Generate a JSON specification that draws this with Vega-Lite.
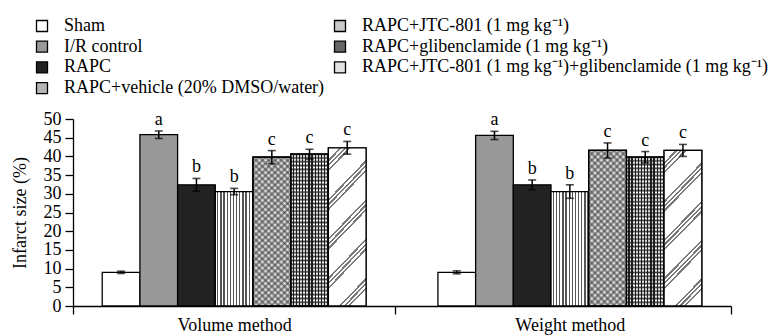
{
  "$schema": "https://vega.github.io/schema/vega-lite/v6.json",
  "width": 658,
  "height": 187,
  "autosize": "none",
  "padding": {"left": 73, "top": 119, "right": 43, "bottom": 29},
  "background": "white",
  "config": {
    "view": {"stroke": null},
    "font": "Liberation Serif",
    "axis": {
      "domainColor": "black", "domainWidth": 1.3, "tickColor": "black", "tickWidth": 1.3,
      "labelColor": "black", "labelFont": "Liberation Serif", "labelFontSize": 18,
      "titleColor": "black", "titleFont": "Liberation Serif", "titleFontSize": 18, "titleFontWeight": "normal",
      "grid": false
    }
  },
  "data": {"values": [
    {"method": "Volume method", "group": "Sham", "mean": 9.0, "se": 0.3, "letter": ""},
    {"method": "Volume method", "group": "I/R control", "mean": 45.8, "se": 1.0, "letter": "a"},
    {"method": "Volume method", "group": "RAPC", "mean": 32.4, "se": 1.7, "letter": "b"},
    {"method": "Volume method", "group": "RAPC+vehicle (20% DMSO/water)", "mean": 30.6, "se": 0.85, "letter": "b"},
    {"method": "Volume method", "group": "RAPC+JTC-801 (1 mg kg⁻¹)", "mean": 39.8, "se": 1.75, "letter": "c"},
    {"method": "Volume method", "group": "RAPC+glibenclamide (1 mg kg⁻¹)", "mean": 40.6, "se": 1.3, "letter": "c"},
    {"method": "Volume method", "group": "RAPC+JTC-801 (1 mg kg⁻¹)+glibenclamide (1 mg kg⁻¹)", "mean": 42.3, "se": 1.7, "letter": "c"},
    {"method": "Weight method", "group": "Sham", "mean": 9.0, "se": 0.4, "letter": ""},
    {"method": "Weight method", "group": "I/R control", "mean": 45.6, "se": 1.1, "letter": "a"},
    {"method": "Weight method", "group": "RAPC", "mean": 32.4, "se": 1.3, "letter": "b"},
    {"method": "Weight method", "group": "RAPC+vehicle (20% DMSO/water)", "mean": 30.6, "se": 1.8, "letter": "b"},
    {"method": "Weight method", "group": "RAPC+JTC-801 (1 mg kg⁻¹)", "mean": 41.6, "se": 2.0, "letter": "c"},
    {"method": "Weight method", "group": "RAPC+glibenclamide (1 mg kg⁻¹)", "mean": 39.8, "se": 1.5, "letter": "c"},
    {"method": "Weight method", "group": "RAPC+JTC-801 (1 mg kg⁻¹)+glibenclamide (1 mg kg⁻¹)", "mean": 41.6, "se": 1.6, "letter": "c"}
  ]},
  "transform": [
    {"calculate": "datum.mean - datum.se", "as": "lo"},
    {"calculate": "datum.mean + datum.se", "as": "hi"}
  ],
  "encoding": {
    "x": {
      "field": "method", "type": "nominal", "title": null,
      "scale": {"paddingInner": 0.04, "paddingOuter": 0},
      "axis": {"labelAngle": 0, "tickBand": "extent", "tickSize": 8, "labelPadding": 2}
    },
    "xOffset": {
      "field": "group", "type": "nominal",
      "sort": ["Sham", "I/R control", "RAPC", "RAPC+vehicle (20% DMSO/water)", "RAPC+JTC-801 (1 mg kg⁻¹)", "RAPC+glibenclamide (1 mg kg⁻¹)", "RAPC+JTC-801 (1 mg kg⁻¹)+glibenclamide (1 mg kg⁻¹)"],
      "scale": {"paddingInner": 0, "paddingOuter": 0.775}
    }
  },
  "layer": [
    {
      "mark": {"type": "bar", "stroke": "black", "strokeWidth": 1.3},
      "encoding": {
        "y": {
          "field": "mean", "type": "quantitative", "title": "Infarct size (%)",
          "scale": {"domain": [0, 50], "nice": false, "zero": true},
          "axis": {"values": [0, 5, 10, 15, 20, 25, 30, 35, 40, 45, 50], "tickSize": 8, "labelPadding": 4, "titlePadding": 14, "labelOverlap": false}
        },
        "fill": {
          "field": "group", "type": "nominal",
          "scale": {
            "domain": ["Sham", "I/R control", "RAPC", "RAPC+vehicle (20% DMSO/water)", "RAPC+JTC-801 (1 mg kg⁻¹)", "RAPC+glibenclamide (1 mg kg⁻¹)", "RAPC+JTC-801 (1 mg kg⁻¹)+glibenclamide (1 mg kg⁻¹)"],
            "range": ["#ffffff", "#999999", "#222222", "#b4b4b4", "#c8c8c8", "#666666", "#e2e2e2"]
          },
          "legend": {
            "orient": "none", "legendX": -40, "legendY": -102, "direction": "vertical", "columns": 2, "title": null,
            "symbolType": "square", "symbolSize": 121, "symbolStrokeColor": "black", "symbolStrokeWidth": 1.3,
            "labelFont": "Liberation Serif", "labelFontSize": 18, "labelColor": "black", "labelOffset": 13, "labelLimit": 700,
            "rowPadding": 2.7, "columnPadding": 6, "padding": 0, "offset": 0
          }
        }
      }
    },
    {
      "transform": [{"filter": "indexof(datum.group,'vehicle')>=0"}],
      "mark": {"type": "bar", "stroke": "black", "strokeWidth": 1.3, "fill": {"gradient": "linear", "x1": 0, "y1": 0, "x2": 1, "y2": 0, "stops": [
        {"offset": 0, "color": "#fff"}, {"offset": 0.05, "color": "#fff"}, {"offset": 0.05, "color": "#555"}, {"offset": 0.0833, "color": "#555"},
        {"offset": 0.0833, "color": "#fff"}, {"offset": 0.1333, "color": "#fff"}, {"offset": 0.1333, "color": "#555"}, {"offset": 0.1667, "color": "#555"},
        {"offset": 0.1667, "color": "#fff"}, {"offset": 0.2167, "color": "#fff"}, {"offset": 0.2167, "color": "#555"}, {"offset": 0.25, "color": "#555"},
        {"offset": 0.25, "color": "#fff"}, {"offset": 0.3, "color": "#fff"}, {"offset": 0.3, "color": "#555"}, {"offset": 0.3333, "color": "#555"},
        {"offset": 0.3333, "color": "#fff"}, {"offset": 0.3833, "color": "#fff"}, {"offset": 0.3833, "color": "#555"}, {"offset": 0.4167, "color": "#555"},
        {"offset": 0.4167, "color": "#fff"}, {"offset": 0.4667, "color": "#fff"}, {"offset": 0.4667, "color": "#555"}, {"offset": 0.5, "color": "#555"},
        {"offset": 0.5, "color": "#fff"}, {"offset": 0.55, "color": "#fff"}, {"offset": 0.55, "color": "#555"}, {"offset": 0.5833, "color": "#555"},
        {"offset": 0.5833, "color": "#fff"}, {"offset": 0.6333, "color": "#fff"}, {"offset": 0.6333, "color": "#555"}, {"offset": 0.6667, "color": "#555"},
        {"offset": 0.6667, "color": "#fff"}, {"offset": 0.7167, "color": "#fff"}, {"offset": 0.7167, "color": "#555"}, {"offset": 0.75, "color": "#555"},
        {"offset": 0.75, "color": "#fff"}, {"offset": 0.8, "color": "#fff"}, {"offset": 0.8, "color": "#555"}, {"offset": 0.8333, "color": "#555"},
        {"offset": 0.8333, "color": "#fff"}, {"offset": 0.8833, "color": "#fff"}, {"offset": 0.8833, "color": "#555"}, {"offset": 0.9167, "color": "#555"},
        {"offset": 0.9167, "color": "#fff"}, {"offset": 0.9667, "color": "#fff"}, {"offset": 0.9667, "color": "#555"}, {"offset": 1, "color": "#555"}]}},
      "encoding": {"y": {"field": "mean", "type": "quantitative", "title": "Infarct size (%)", "axis": {"values": [0, 5, 10, 15, 20, 25, 30, 35, 40, 45, 50], "tickSize": 8, "labelPadding": 4, "titlePadding": 14, "labelOverlap": false}}}
    },
    {
      "transform": [{"filter": "indexof(datum.group,'gliben')>=0 && indexof(datum.group,'JTC')<0"}],
      "mark": {"type": "bar", "stroke": "black", "strokeWidth": 1.3, "fill": {"gradient": "linear", "x1": 0, "y1": 0, "x2": 1, "y2": 0, "stops": [
        {"offset": 0, "color": "#fff"}, {"offset": 0.05, "color": "#fff"}, {"offset": 0.05, "color": "#222"}, {"offset": 0.0833, "color": "#222"},
        {"offset": 0.0833, "color": "#fff"}, {"offset": 0.1333, "color": "#fff"}, {"offset": 0.1333, "color": "#222"}, {"offset": 0.1667, "color": "#222"},
        {"offset": 0.1667, "color": "#fff"}, {"offset": 0.2167, "color": "#fff"}, {"offset": 0.2167, "color": "#222"}, {"offset": 0.25, "color": "#222"},
        {"offset": 0.25, "color": "#fff"}, {"offset": 0.3, "color": "#fff"}, {"offset": 0.3, "color": "#222"}, {"offset": 0.3333, "color": "#222"},
        {"offset": 0.3333, "color": "#fff"}, {"offset": 0.3833, "color": "#fff"}, {"offset": 0.3833, "color": "#222"}, {"offset": 0.4167, "color": "#222"},
        {"offset": 0.4167, "color": "#fff"}, {"offset": 0.4667, "color": "#fff"}, {"offset": 0.4667, "color": "#222"}, {"offset": 0.5, "color": "#222"},
        {"offset": 0.5, "color": "#fff"}, {"offset": 0.55, "color": "#fff"}, {"offset": 0.55, "color": "#222"}, {"offset": 0.5833, "color": "#222"},
        {"offset": 0.5833, "color": "#fff"}, {"offset": 0.6333, "color": "#fff"}, {"offset": 0.6333, "color": "#222"}, {"offset": 0.6667, "color": "#222"},
        {"offset": 0.6667, "color": "#fff"}, {"offset": 0.7167, "color": "#fff"}, {"offset": 0.7167, "color": "#222"}, {"offset": 0.75, "color": "#222"},
        {"offset": 0.75, "color": "#fff"}, {"offset": 0.8, "color": "#fff"}, {"offset": 0.8, "color": "#222"}, {"offset": 0.8333, "color": "#222"},
        {"offset": 0.8333, "color": "#fff"}, {"offset": 0.8833, "color": "#fff"}, {"offset": 0.8833, "color": "#222"}, {"offset": 0.9167, "color": "#222"},
        {"offset": 0.9167, "color": "#fff"}, {"offset": 0.9667, "color": "#fff"}, {"offset": 0.9667, "color": "#222"}, {"offset": 1, "color": "#222"}]}},
      "encoding": {"y": {"field": "mean", "type": "quantitative", "title": "Infarct size (%)", "axis": {"values": [0, 5, 10, 15, 20, 25, 30, 35, 40, 45, 50], "tickSize": 8, "labelPadding": 4, "titlePadding": 14, "labelOverlap": false}}}
    },
    {
      "transform": [{"filter": "indexof(datum.group,'gliben')>=0 && indexof(datum.group,'JTC')<0"}],
      "mark": {"type": "bar", "stroke": "black", "strokeWidth": 1.3, "fill": {"gradient": "linear", "x1": 0, "y1": 0, "x2": 0, "y2": 1, "stops": [
        {"offset": 0, "color": "rgba(20,20,20,0.8)"}, {"offset": 0.0125, "color": "rgba(20,20,20,0)"}, {"offset": 0.025, "color": "rgba(20,20,20,0.8)"}, {"offset": 0.0375, "color": "rgba(20,20,20,0)"},
        {"offset": 0.05, "color": "rgba(20,20,20,0.8)"}, {"offset": 0.0625, "color": "rgba(20,20,20,0)"}, {"offset": 0.075, "color": "rgba(20,20,20,0.8)"}, {"offset": 0.0875, "color": "rgba(20,20,20,0)"},
        {"offset": 0.1, "color": "rgba(20,20,20,0.8)"}, {"offset": 0.1125, "color": "rgba(20,20,20,0)"}, {"offset": 0.125, "color": "rgba(20,20,20,0.8)"}, {"offset": 0.1375, "color": "rgba(20,20,20,0)"},
        {"offset": 0.15, "color": "rgba(20,20,20,0.8)"}, {"offset": 0.1625, "color": "rgba(20,20,20,0)"}, {"offset": 0.175, "color": "rgba(20,20,20,0.8)"}, {"offset": 0.1875, "color": "rgba(20,20,20,0)"},
        {"offset": 0.2, "color": "rgba(20,20,20,0.8)"}, {"offset": 0.2125, "color": "rgba(20,20,20,0)"}, {"offset": 0.225, "color": "rgba(20,20,20,0.8)"}, {"offset": 0.2375, "color": "rgba(20,20,20,0)"},
        {"offset": 0.25, "color": "rgba(20,20,20,0.8)"}, {"offset": 0.2625, "color": "rgba(20,20,20,0)"}, {"offset": 0.275, "color": "rgba(20,20,20,0.8)"}, {"offset": 0.2875, "color": "rgba(20,20,20,0)"},
        {"offset": 0.3, "color": "rgba(20,20,20,0.8)"}, {"offset": 0.3125, "color": "rgba(20,20,20,0)"}, {"offset": 0.325, "color": "rgba(20,20,20,0.8)"}, {"offset": 0.3375, "color": "rgba(20,20,20,0)"},
        {"offset": 0.35, "color": "rgba(20,20,20,0.8)"}, {"offset": 0.3625, "color": "rgba(20,20,20,0)"}, {"offset": 0.375, "color": "rgba(20,20,20,0.8)"}, {"offset": 0.3875, "color": "rgba(20,20,20,0)"},
        {"offset": 0.4, "color": "rgba(20,20,20,0.8)"}, {"offset": 0.4125, "color": "rgba(20,20,20,0)"}, {"offset": 0.425, "color": "rgba(20,20,20,0.8)"}, {"offset": 0.4375, "color": "rgba(20,20,20,0)"},
        {"offset": 0.45, "color": "rgba(20,20,20,0.8)"}, {"offset": 0.4625, "color": "rgba(20,20,20,0)"}, {"offset": 0.475, "color": "rgba(20,20,20,0.8)"}, {"offset": 0.4875, "color": "rgba(20,20,20,0)"},
        {"offset": 0.5, "color": "rgba(20,20,20,0.8)"}, {"offset": 0.5125, "color": "rgba(20,20,20,0)"}, {"offset": 0.525, "color": "rgba(20,20,20,0.8)"}, {"offset": 0.5375, "color": "rgba(20,20,20,0)"},
        {"offset": 0.55, "color": "rgba(20,20,20,0.8)"}, {"offset": 0.5625, "color": "rgba(20,20,20,0)"}, {"offset": 0.575, "color": "rgba(20,20,20,0.8)"}, {"offset": 0.5875, "color": "rgba(20,20,20,0)"},
        {"offset": 0.6, "color": "rgba(20,20,20,0.8)"}, {"offset": 0.6125, "color": "rgba(20,20,20,0)"}, {"offset": 0.625, "color": "rgba(20,20,20,0.8)"}, {"offset": 0.6375, "color": "rgba(20,20,20,0)"},
        {"offset": 0.65, "color": "rgba(20,20,20,0.8)"}, {"offset": 0.6625, "color": "rgba(20,20,20,0)"}, {"offset": 0.675, "color": "rgba(20,20,20,0.8)"}, {"offset": 0.6875, "color": "rgba(20,20,20,0)"},
        {"offset": 0.7, "color": "rgba(20,20,20,0.8)"}, {"offset": 0.7125, "color": "rgba(20,20,20,0)"}, {"offset": 0.725, "color": "rgba(20,20,20,0.8)"}, {"offset": 0.7375, "color": "rgba(20,20,20,0)"},
        {"offset": 0.75, "color": "rgba(20,20,20,0.8)"}, {"offset": 0.7625, "color": "rgba(20,20,20,0)"}, {"offset": 0.775, "color": "rgba(20,20,20,0.8)"}, {"offset": 0.7875, "color": "rgba(20,20,20,0)"},
        {"offset": 0.8, "color": "rgba(20,20,20,0.8)"}, {"offset": 0.8125, "color": "rgba(20,20,20,0)"}, {"offset": 0.825, "color": "rgba(20,20,20,0.8)"}, {"offset": 0.8375, "color": "rgba(20,20,20,0)"},
        {"offset": 0.85, "color": "rgba(20,20,20,0.8)"}, {"offset": 0.8625, "color": "rgba(20,20,20,0)"}, {"offset": 0.875, "color": "rgba(20,20,20,0.8)"}, {"offset": 0.8875, "color": "rgba(20,20,20,0)"},
        {"offset": 0.9, "color": "rgba(20,20,20,0.8)"}, {"offset": 0.9125, "color": "rgba(20,20,20,0)"}, {"offset": 0.925, "color": "rgba(20,20,20,0.8)"}, {"offset": 0.9375, "color": "rgba(20,20,20,0)"},
        {"offset": 0.95, "color": "rgba(20,20,20,0.8)"}, {"offset": 0.9625, "color": "rgba(20,20,20,0)"}, {"offset": 0.975, "color": "rgba(20,20,20,0.8)"}, {"offset": 0.9875, "color": "rgba(20,20,20,0)"},
        {"offset": 1, "color": "rgba(20,20,20,0.8)"}]}},
      "encoding": {"y": {"field": "mean", "type": "quantitative", "title": "Infarct size (%)", "axis": {"values": [0, 5, 10, 15, 20, 25, 30, 35, 40, 45, 50], "tickSize": 8, "labelPadding": 4, "titlePadding": 14, "labelOverlap": false}}}
    },
    {
      "transform": [{"filter": "indexof(datum.group,'JTC')>=0 && indexof(datum.group,'gliben')<0"}],
      "mark": {"type": "bar", "stroke": "black", "strokeWidth": 1.3, "fill": {"gradient": "linear", "x1": 0, "y1": 0, "x2": 0.29, "y2": 1.17, "stops": [
        {"offset": 0, "color": "#858585"}, {"offset": 0.01667, "color": "#fff"}, {"offset": 0.03333, "color": "#858585"}, {"offset": 0.05, "color": "#fff"},
        {"offset": 0.06667, "color": "#858585"}, {"offset": 0.08333, "color": "#fff"}, {"offset": 0.1, "color": "#858585"}, {"offset": 0.11667, "color": "#fff"},
        {"offset": 0.13333, "color": "#858585"}, {"offset": 0.15, "color": "#fff"}, {"offset": 0.16667, "color": "#858585"}, {"offset": 0.18333, "color": "#fff"},
        {"offset": 0.2, "color": "#858585"}, {"offset": 0.21667, "color": "#fff"}, {"offset": 0.23333, "color": "#858585"}, {"offset": 0.25, "color": "#fff"},
        {"offset": 0.26667, "color": "#858585"}, {"offset": 0.28333, "color": "#fff"}, {"offset": 0.3, "color": "#858585"}, {"offset": 0.31667, "color": "#fff"},
        {"offset": 0.33333, "color": "#858585"}, {"offset": 0.35, "color": "#fff"}, {"offset": 0.36667, "color": "#858585"}, {"offset": 0.38333, "color": "#fff"},
        {"offset": 0.4, "color": "#858585"}, {"offset": 0.41667, "color": "#fff"}, {"offset": 0.43333, "color": "#858585"}, {"offset": 0.45, "color": "#fff"},
        {"offset": 0.46667, "color": "#858585"}, {"offset": 0.48333, "color": "#fff"}, {"offset": 0.5, "color": "#858585"}, {"offset": 0.51667, "color": "#fff"},
        {"offset": 0.53333, "color": "#858585"}, {"offset": 0.55, "color": "#fff"}, {"offset": 0.56667, "color": "#858585"}, {"offset": 0.58333, "color": "#fff"},
        {"offset": 0.6, "color": "#858585"}, {"offset": 0.61667, "color": "#fff"}, {"offset": 0.63333, "color": "#858585"}, {"offset": 0.65, "color": "#fff"},
        {"offset": 0.66667, "color": "#858585"}, {"offset": 0.68333, "color": "#fff"}, {"offset": 0.7, "color": "#858585"}, {"offset": 0.71667, "color": "#fff"},
        {"offset": 0.73333, "color": "#858585"}, {"offset": 0.75, "color": "#fff"}, {"offset": 0.76667, "color": "#858585"}, {"offset": 0.78333, "color": "#fff"},
        {"offset": 0.8, "color": "#858585"}, {"offset": 0.81667, "color": "#fff"}, {"offset": 0.83333, "color": "#858585"}, {"offset": 0.85, "color": "#fff"},
        {"offset": 0.86667, "color": "#858585"}, {"offset": 0.88333, "color": "#fff"}, {"offset": 0.9, "color": "#858585"}, {"offset": 0.91667, "color": "#fff"},
        {"offset": 0.93333, "color": "#858585"}, {"offset": 0.95, "color": "#fff"}, {"offset": 0.96667, "color": "#858585"}, {"offset": 0.98333, "color": "#fff"},
        {"offset": 1, "color": "#858585"}]}},
      "encoding": {"y": {"field": "mean", "type": "quantitative", "title": "Infarct size (%)", "axis": {"values": [0, 5, 10, 15, 20, 25, 30, 35, 40, 45, 50], "tickSize": 8, "labelPadding": 4, "titlePadding": 14, "labelOverlap": false}}}
    },
    {
      "transform": [{"filter": "indexof(datum.group,'JTC')>=0 && indexof(datum.group,'gliben')<0"}],
      "mark": {"type": "bar", "stroke": "black", "strokeWidth": 1.3, "fill": {"gradient": "linear", "x1": 1, "y1": 0, "x2": 0.71, "y2": 1.17, "stops": [
        {"offset": 0, "color": "rgba(50,50,50,0.6)"}, {"offset": 0.01667, "color": "rgba(50,50,50,0)"}, {"offset": 0.03333, "color": "rgba(50,50,50,0.6)"}, {"offset": 0.05, "color": "rgba(50,50,50,0)"},
        {"offset": 0.06667, "color": "rgba(50,50,50,0.6)"}, {"offset": 0.08333, "color": "rgba(50,50,50,0)"}, {"offset": 0.1, "color": "rgba(50,50,50,0.6)"}, {"offset": 0.11667, "color": "rgba(50,50,50,0)"},
        {"offset": 0.13333, "color": "rgba(50,50,50,0.6)"}, {"offset": 0.15, "color": "rgba(50,50,50,0)"}, {"offset": 0.16667, "color": "rgba(50,50,50,0.6)"}, {"offset": 0.18333, "color": "rgba(50,50,50,0)"},
        {"offset": 0.2, "color": "rgba(50,50,50,0.6)"}, {"offset": 0.21667, "color": "rgba(50,50,50,0)"}, {"offset": 0.23333, "color": "rgba(50,50,50,0.6)"}, {"offset": 0.25, "color": "rgba(50,50,50,0)"},
        {"offset": 0.26667, "color": "rgba(50,50,50,0.6)"}, {"offset": 0.28333, "color": "rgba(50,50,50,0)"}, {"offset": 0.3, "color": "rgba(50,50,50,0.6)"}, {"offset": 0.31667, "color": "rgba(50,50,50,0)"},
        {"offset": 0.33333, "color": "rgba(50,50,50,0.6)"}, {"offset": 0.35, "color": "rgba(50,50,50,0)"}, {"offset": 0.36667, "color": "rgba(50,50,50,0.6)"}, {"offset": 0.38333, "color": "rgba(50,50,50,0)"},
        {"offset": 0.4, "color": "rgba(50,50,50,0.6)"}, {"offset": 0.41667, "color": "rgba(50,50,50,0)"}, {"offset": 0.43333, "color": "rgba(50,50,50,0.6)"}, {"offset": 0.45, "color": "rgba(50,50,50,0)"},
        {"offset": 0.46667, "color": "rgba(50,50,50,0.6)"}, {"offset": 0.48333, "color": "rgba(50,50,50,0)"}, {"offset": 0.5, "color": "rgba(50,50,50,0.6)"}, {"offset": 0.51667, "color": "rgba(50,50,50,0)"},
        {"offset": 0.53333, "color": "rgba(50,50,50,0.6)"}, {"offset": 0.55, "color": "rgba(50,50,50,0)"}, {"offset": 0.56667, "color": "rgba(50,50,50,0.6)"}, {"offset": 0.58333, "color": "rgba(50,50,50,0)"},
        {"offset": 0.6, "color": "rgba(50,50,50,0.6)"}, {"offset": 0.61667, "color": "rgba(50,50,50,0)"}, {"offset": 0.63333, "color": "rgba(50,50,50,0.6)"}, {"offset": 0.65, "color": "rgba(50,50,50,0)"},
        {"offset": 0.66667, "color": "rgba(50,50,50,0.6)"}, {"offset": 0.68333, "color": "rgba(50,50,50,0)"}, {"offset": 0.7, "color": "rgba(50,50,50,0.6)"}, {"offset": 0.71667, "color": "rgba(50,50,50,0)"},
        {"offset": 0.73333, "color": "rgba(50,50,50,0.6)"}, {"offset": 0.75, "color": "rgba(50,50,50,0)"}, {"offset": 0.76667, "color": "rgba(50,50,50,0.6)"}, {"offset": 0.78333, "color": "rgba(50,50,50,0)"},
        {"offset": 0.8, "color": "rgba(50,50,50,0.6)"}, {"offset": 0.81667, "color": "rgba(50,50,50,0)"}, {"offset": 0.83333, "color": "rgba(50,50,50,0.6)"}, {"offset": 0.85, "color": "rgba(50,50,50,0)"},
        {"offset": 0.86667, "color": "rgba(50,50,50,0.6)"}, {"offset": 0.88333, "color": "rgba(50,50,50,0)"}, {"offset": 0.9, "color": "rgba(50,50,50,0.6)"}, {"offset": 0.91667, "color": "rgba(50,50,50,0)"},
        {"offset": 0.93333, "color": "rgba(50,50,50,0.6)"}, {"offset": 0.95, "color": "rgba(50,50,50,0)"}, {"offset": 0.96667, "color": "rgba(50,50,50,0.6)"}, {"offset": 0.98333, "color": "rgba(50,50,50,0)"},
        {"offset": 1, "color": "rgba(50,50,50,0.6)"}]}},
      "encoding": {"y": {"field": "mean", "type": "quantitative", "title": "Infarct size (%)", "axis": {"values": [0, 5, 10, 15, 20, 25, 30, 35, 40, 45, 50], "tickSize": 8, "labelPadding": 4, "titlePadding": 14, "labelOverlap": false}}}
    },
    {
      "transform": [{"filter": "indexof(datum.group,'JTC')>=0 && indexof(datum.group,'gliben')>=0"}],
      "mark": {"type": "bar", "stroke": "black", "strokeWidth": 1.3, "fill": {"gradient": "linear", "x1": 0, "y1": 0, "x2": 0.29, "y2": 1.17, "stops": [
        {"offset": 0, "color": "#fff"},
        {"offset": 0.06, "color": "#fff"}, {"offset": 0.06, "color": "#7a7a7a"}, {"offset": 0.072, "color": "#7a7a7a"}, {"offset": 0.072, "color": "#fff"},
        {"offset": 0.084, "color": "#fff"}, {"offset": 0.084, "color": "#7a7a7a"}, {"offset": 0.096, "color": "#7a7a7a"}, {"offset": 0.096, "color": "#fff"},
        {"offset": 0.108, "color": "#fff"}, {"offset": 0.108, "color": "#7a7a7a"}, {"offset": 0.12, "color": "#7a7a7a"}, {"offset": 0.12, "color": "#fff"},
        {"offset": 0.26, "color": "#fff"}, {"offset": 0.26, "color": "#7a7a7a"}, {"offset": 0.272, "color": "#7a7a7a"}, {"offset": 0.272, "color": "#fff"},
        {"offset": 0.284, "color": "#fff"}, {"offset": 0.284, "color": "#7a7a7a"}, {"offset": 0.296, "color": "#7a7a7a"}, {"offset": 0.296, "color": "#fff"},
        {"offset": 0.308, "color": "#fff"}, {"offset": 0.308, "color": "#7a7a7a"}, {"offset": 0.32, "color": "#7a7a7a"}, {"offset": 0.32, "color": "#fff"},
        {"offset": 0.46, "color": "#fff"}, {"offset": 0.46, "color": "#7a7a7a"}, {"offset": 0.472, "color": "#7a7a7a"}, {"offset": 0.472, "color": "#fff"},
        {"offset": 0.484, "color": "#fff"}, {"offset": 0.484, "color": "#7a7a7a"}, {"offset": 0.496, "color": "#7a7a7a"}, {"offset": 0.496, "color": "#fff"},
        {"offset": 0.508, "color": "#fff"}, {"offset": 0.508, "color": "#7a7a7a"}, {"offset": 0.52, "color": "#7a7a7a"}, {"offset": 0.52, "color": "#fff"},
        {"offset": 0.66, "color": "#fff"}, {"offset": 0.66, "color": "#7a7a7a"}, {"offset": 0.672, "color": "#7a7a7a"}, {"offset": 0.672, "color": "#fff"},
        {"offset": 0.684, "color": "#fff"}, {"offset": 0.684, "color": "#7a7a7a"}, {"offset": 0.696, "color": "#7a7a7a"}, {"offset": 0.696, "color": "#fff"},
        {"offset": 0.708, "color": "#fff"}, {"offset": 0.708, "color": "#7a7a7a"}, {"offset": 0.72, "color": "#7a7a7a"}, {"offset": 0.72, "color": "#fff"},
        {"offset": 0.86, "color": "#fff"}, {"offset": 0.86, "color": "#7a7a7a"}, {"offset": 0.872, "color": "#7a7a7a"}, {"offset": 0.872, "color": "#fff"},
        {"offset": 0.884, "color": "#fff"}, {"offset": 0.884, "color": "#7a7a7a"}, {"offset": 0.896, "color": "#7a7a7a"}, {"offset": 0.896, "color": "#fff"},
        {"offset": 0.908, "color": "#fff"}, {"offset": 0.908, "color": "#7a7a7a"}, {"offset": 0.92, "color": "#7a7a7a"}, {"offset": 0.92, "color": "#fff"},
        {"offset": 1, "color": "#fff"}]}},
      "encoding": {"y": {"field": "mean", "type": "quantitative", "title": "Infarct size (%)", "axis": {"values": [0, 5, 10, 15, 20, 25, 30, 35, 40, 45, 50], "tickSize": 8, "labelPadding": 4, "titlePadding": 14, "labelOverlap": false}}}
    },
    {
      "mark": {"type": "rule", "color": "black", "strokeWidth": 1.5},
      "encoding": {"y": {"field": "lo", "type": "quantitative", "title": "Infarct size (%)", "axis": {"values": [0, 5, 10, 15, 20, 25, 30, 35, 40, 45, 50], "tickSize": 8, "labelPadding": 4, "titlePadding": 14, "labelOverlap": false}}, "y2": {"field": "hi"}}
    },
    {
      "mark": {"type": "tick", "orient": "horizontal", "color": "black", "size": 8, "thickness": 1.6},
      "encoding": {"y": {"field": "hi", "type": "quantitative", "title": "Infarct size (%)", "axis": {"values": [0, 5, 10, 15, 20, 25, 30, 35, 40, 45, 50], "tickSize": 8, "labelPadding": 4, "titlePadding": 14, "labelOverlap": false}}}
    },
    {
      "mark": {"type": "tick", "orient": "horizontal", "color": "black", "size": 8, "thickness": 1.6},
      "encoding": {"y": {"field": "lo", "type": "quantitative", "title": "Infarct size (%)", "axis": {"values": [0, 5, 10, 15, 20, 25, 30, 35, 40, 45, 50], "tickSize": 8, "labelPadding": 4, "titlePadding": 14, "labelOverlap": false}}}
    },
    {
      "mark": {"type": "text", "font": "Liberation Serif", "fontSize": 18, "color": "black", "baseline": "alphabetic", "dy": -6},
      "encoding": {"y": {"field": "hi", "type": "quantitative", "title": "Infarct size (%)", "axis": {"values": [0, 5, 10, 15, 20, 25, 30, 35, 40, 45, 50], "tickSize": 8, "labelPadding": 4, "titlePadding": 14, "labelOverlap": false}}, "text": {"field": "letter"}}
    }
  ]
}
